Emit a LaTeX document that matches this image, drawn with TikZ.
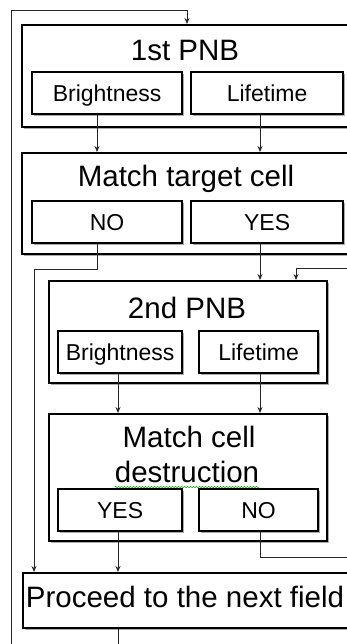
\documentclass[tikz,border=0pt]{standalone}
\usepackage{fontspec}
\setmainfont{Liberation Sans}
\usetikzlibrary{arrows.meta,shadows,decorations.pathmorphing,calc}
\tikzset{
  outerbox/.style={draw, line width=2.4pt, fill=white, anchor=north west, inner sep=0pt,
    drop shadow={shadow xshift=2pt, shadow yshift=-2pt, fill=black!55, opacity=0.6}},
  innerbox/.style={draw, line width=2.2pt, fill=white, anchor=north west, inner sep=0pt,
    font=\fontsize{23}{26}\selectfont, text height=16.5pt, text depth=0pt,
    drop shadow={shadow xshift=2pt, shadow yshift=-2pt, fill=black!55, opacity=0.6}},
  bigtext/.style={anchor=base, inner sep=0pt, font=\fontsize{29.5}{35}\selectfont},
  arr/.style={draw=black!85, line width=0.9pt, -{Stealth[length=6pt,width=5pt]}},
}
\begin{document}
\begin{tikzpicture}[x=1pt,y=-1pt]
\useasboundingbox (0,0) rectangle (347,644);
\fill[white] (0,0) rectangle (347,644);
\clip (0,0) rectangle (347,644);

% outer boxes
\node[outerbox, minimum width=331pt, minimum height=102pt] (b1) at (21,24) {};
\node[outerbox, minimum width=331pt, minimum height=101pt] (b2) at (21,152) {};
\node[outerbox, minimum width=278pt, minimum height=102pt] (b3) at (48,280) {};
\node[outerbox, minimum width=278pt, minimum height=127pt] (b4) at (48,413) {};
\node[outerbox, minimum width=330pt, minimum height=55pt] (b5) at (22,572) {};

% titles
\node[bigtext] (t1) at (185,61) {1st PNB};
\node[bigtext] (t2) at (186,187) {Match target cell};
\node[bigtext] (t3) at (187,318) {2nd PNB};
\node[bigtext] (t4a) at (189,447) {Match cell};
\node[bigtext] (t4b) at (187,482) {destruction};
\node[bigtext] (t5) at (185,607) {Proceed to the next field};

% inner boxes
\node[innerbox, minimum width=150pt, minimum height=42pt] (bri1) at (31,71) {Brightness};
\node[innerbox, minimum width=152pt, minimum height=42pt] (lif1) at (190,71) {Lifetime};
\node[innerbox, minimum width=150pt, minimum height=42pt] (no1) at (31,200) {NO};
\node[innerbox, minimum width=152pt, minimum height=42pt] (yes1) at (190,200) {YES};
\node[innerbox, minimum width=124pt, minimum height=42pt] (bri2) at (57,330) {Brightness};
\node[innerbox, minimum width=119pt, minimum height=42pt] (lif2) at (198,330) {Lifetime};
\node[innerbox, minimum width=124pt, minimum height=42pt] (yes2) at (57,488) {YES};
\node[innerbox, minimum width=119pt, minimum height=42pt] (no2) at (198,488) {NO};

% spell-check squiggle under "destruction"
\draw[green!60!black, line width=0.5pt, decorate, decoration={snake, amplitude=0.7pt, segment length=3pt}]
  ($(t4b.base west)+(0,5)$) -- ($(t4b.base east)+(0,5)$);

% column / level coordinates
\coordinate (xA) at (97,0);
\coordinate (xB) at (260,0);
\coordinate (xC) at (118,0);
\coordinate (xL) at (11,0);
\coordinate (xN) at (34,0);
\coordinate (xR) at (362,0);
\coordinate (xF) at (296,0);
\coordinate (xT) at (187,0);
\coordinate (yTop) at (0,10);
\coordinate (yNO1) at (0,269);
\coordinate (yLoop) at (0,268);
\coordinate (yNO2) at (0,557);
\coordinate (yBot) at (0,660);

% connectors
\draw[arr] (b5.south -| xC) -- (yBot -| xC) -- (yBot -| xL) -- (yTop -| xL) -- (yTop -| xT) -- (b1.north -| xT);
\draw[arr] (bri1.south -| xA) -- (b2.north -| xA);
\draw[arr] (lif1.south -| xB) -- (b2.north -| xB);
\draw[arr] (no1.south -| xA) -- (yNO1 -| xA) -- (yNO1 -| xN) -- (b5.north -| xN);
\draw[arr] (yes1.south -| xB) -- (b3.north -| xB);
\draw[arr] (bri2.south -| xC) -- (b4.north -| xC);
\draw[arr] (lif2.south -| xB) -- (b4.north -| xB);
\draw[arr] (yes2.south -| xC) -- (b5.north -| xC);
\draw[arr] (no2.south -| xB) -- (yNO2 -| xB) -- (yNO2 -| xR) -- (yLoop -| xR) -- (yLoop -| xF) -- (b3.north -| xF);
\end{tikzpicture}
\end{document}
